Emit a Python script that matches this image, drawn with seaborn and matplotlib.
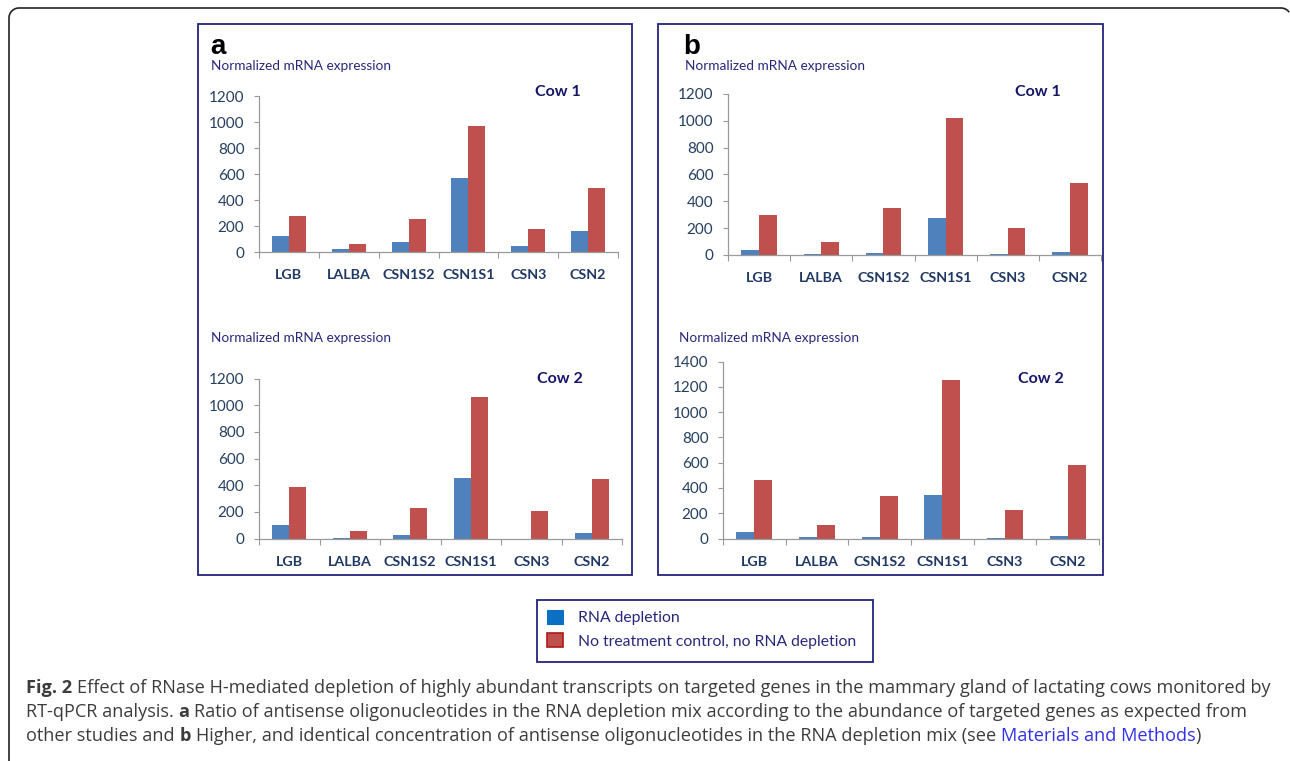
import numpy as np
import pandas as pd
import matplotlib
matplotlib.use("Agg")
import matplotlib.pyplot as plt
import seaborn as sns
from matplotlib.patches import Rectangle, Patch
from matplotlib.lines import Line2D

# ---------------- data ----------------
genes = ["LGB", "LALBA", "CSN1S2", "CSN1S1", "CSN3", "CSN2"]
conditions = ["RNA depletion", "No treatment control, no RNA depletion"]

a_cow1_depleted = [120, 20, 80, 570, 45, 165]
a_cow1_control = [280, 65, 255, 970, 175, 495]
a_cow2_depleted = [105, 5, 30, 455, 0, 45]
a_cow2_control = [390, 55, 230, 1065, 210, 450]
b_cow1_depleted = [35, 5, 15, 275, 5, 20]
b_cow1_control = [300, 95, 350, 1020, 200, 535]
b_cow2_depleted = [55, 10, 10, 345, 5, 20]
b_cow2_control = [460, 105, 340, 1255, 225, 585]

yticks_1200 = [0, 200, 400, 600, 800, 1000, 1200]
yticks_1400 = [0, 200, 400, 600, 800, 1000, 1200, 1400]

ylabel_text = "Normalized mRNA expression"

# ---------------- style ----------------
sns.set_theme(style="white")
plt.rcParams["font.family"] = ["Lato", "DejaVu Sans"]

W, H = 1290, 761
fig = plt.figure(figsize=(W / 100, H / 100), dpi=100)

BLUE = "#4F81BD"
RED = "#C0504D"
palette = {conditions[0]: BLUE, conditions[1]: RED}
NAVY = "#28287A"
TICKC = "#243F60"
CATC = "#1F3864"
AXC = "#9A9A9A"


def fx(x):
    return x / W


def fy(y):
    return 1 - y / H


def make_df(dep, ctl):
    return pd.DataFrame({
        "gene": genes * 2,
        "condition": [conditions[0]] * len(genes) + [conditions[1]] * len(genes),
        "value": list(dep) + list(ctl),
    })


panels = [
    dict(l=259, r=618, y0=252, y1=96, ymax=1200, ticks=yticks_1200,
         dep=a_cow1_depleted, ctl=a_cow1_control,
         lab=(211, 70.5), cow="Cow 1", cowpos=(535, 96.5)),
    dict(l=259, r=622, y0=538.5, y1=378.5, ymax=1200, ticks=yticks_1200,
         dep=a_cow2_depleted, ctl=a_cow2_control,
         lab=(211, 341.5), cow="Cow 2", cowpos=(537, 383)),
    dict(l=728, r=1101, y0=255, y1=94, ymax=1200, ticks=yticks_1200,
         dep=b_cow1_depleted, ctl=b_cow1_control,
         lab=(685, 70.5), cow="Cow 1", cowpos=(1015, 96.5)),
    dict(l=723, r=1099, y0=538.5, y1=361.5, ymax=1400, ticks=yticks_1400,
         dep=b_cow2_depleted, ctl=b_cow2_control,
         lab=(679, 341.5), cow="Cow 2", cowpos=(1018, 383)),
]

for p in panels:
    ax = fig.add_axes([fx(p["l"]), fy(p["y0"]), (p["r"] - p["l"]) / W,
                       (p["y0"] - p["y1"]) / H])
    df = make_df(p["dep"], p["ctl"])
    sns.barplot(data=df, x="gene", y="value", hue="condition", order=genes,
                hue_order=conditions, palette=palette, width=0.57,
                saturation=1, errorbar=None, legend=False, ax=ax,
                linewidth=0)
    ax.set_facecolor("none")
    ax.set_xlim(-0.5, len(genes) - 0.5)
    ax.set_ylim(0, p["ymax"])
    ax.set_yticks(p["ticks"])
    ax.set_yticklabels([str(t) for t in p["ticks"]])
    ax.set_xticks(np.arange(-0.5, len(genes), 1.0))
    ax.set_xticklabels([])
    ax.set_xticks(np.arange(len(genes)), minor=True)
    ax.set_xticklabels(genes, minor=True)
    ax.set_xlabel("")
    ax.set_ylabel("")
    for s in ["top", "right"]:
        ax.spines[s].set_visible(False)
    for s in ["left", "bottom"]:
        ax.spines[s].set_color(AXC)
        ax.spines[s].set_linewidth(0.9)
    ax.tick_params(axis="y", which="major", direction="out", length=3.5,
                   width=0.8, color=AXC, left=True, pad=7,
                   labelsize=11, labelcolor=TICKC)
    ax.tick_params(axis="x", which="major", direction="out", length=4,
                   width=0.8, color=AXC, bottom=True)
    ax.tick_params(axis="x", which="minor", length=0, pad=12.5,
                   labelsize=10.3, labelcolor=CATC)
    for t in ax.get_xticklabels(minor=True):
        t.set_fontweight("bold")
    fig.text(fx(p["lab"][0]), fy(p["lab"][1]), ylabel_text, fontsize=9.8,
             color=NAVY, ha="left", va="baseline")
    fig.text(fx(p["cowpos"][0]), fy(p["cowpos"][1]), p["cow"], fontsize=11.5,
             fontweight="bold", color="#16166A", ha="left", va="baseline")

# panel letters
fig.text(fx(210), fy(54), "a", fontsize=20, fontweight="bold", color="black",
         family=["Liberation Sans", "DejaVu Sans"], ha="left", va="baseline")
fig.text(fx(683), fy(54), "b", fontsize=20, fontweight="bold", color="black",
         family=["Liberation Sans", "DejaVu Sans"], ha="left", va="baseline")

# panel boxes
for (x0, x1) in [(198, 632), (658, 1103)]:
    fig.patches.append(Rectangle((fx(x0), fy(575)), (x1 - x0) / W, (575 - 24) / H,
                                 transform=fig.transFigure, fill=False,
                                 edgecolor="#23237A", linewidth=1.3))

# legend box
fig.patches.append(Rectangle((fx(537), fy(662)), (873 - 537) / W, (662 - 600) / H,
                             transform=fig.transFigure, fill=False,
                             edgecolor="#23237A", linewidth=1.3))
handles = [Patch(facecolor="#0B6FC4", edgecolor="#0B6FC4", linewidth=0.8),
           Patch(facecolor=RED, edgecolor="#B01818", linewidth=1.2)]
fig.legend(handles, conditions, loc="upper left",
           bbox_to_anchor=(fx(547), fy(610)), frameon=False, fontsize=11.3,
           handlelength=1.0, handleheight=1.0, handletextpad=0.95,
           labelspacing=0.5, borderpad=0, borderaxespad=0,
           labelcolor=NAVY)

# outer rounded frame: left edge, top-left corner, top edge, start of top-right corner
rad = 10.0
th1 = np.linspace(np.pi, 1.5 * np.pi, 20)
th2 = np.linspace(1.5 * np.pi, 1.5 * np.pi + 0.9, 12)
px = np.concatenate([[9.0], 19 + rad * np.cos(th1), 1281 + rad * np.cos(th2)])
py = np.concatenate([[770.0], 18 + rad * np.sin(th1), 18 + rad * np.sin(th2)])
fig.lines.append(Line2D(px / W, 1 - py / H, transform=fig.transFigure,
                        color="#222222", linewidth=1.2))

# caption
CAPC = "#3C3C3C"
LINK = "#3030E8"
cap_family = ["Open Sans", "DejaVu Sans"]
renderer = fig.canvas.get_renderer()

lines = [
    [("Fig. 2", "bold", CAPC, False),
     ("Effect of RNase H-mediated depletion of highly abundant transcripts on targeted genes in the mammary gland of lactating cows monitored by", "normal", CAPC, True)],
    [("RT-qPCR analysis.", "normal", CAPC, False), ("a", "bold", CAPC, True),
     ("Ratio of antisense oligonucleotides in the RNA depletion mix according to the abundance of targeted genes as expected from", "normal", CAPC, True)],
    [("other studies and", "normal", CAPC, False), ("b", "bold", CAPC, True),
     ("Higher, and identical concentration of antisense oligonucleotides in the RNA depletion mix (see", "normal", CAPC, True),
     ("Materials and Methods", "normal", LINK, True), (")", "normal", CAPC, False)],
]
baselines = [693, 717, 741]


def space_width(fs):
    t1 = fig.text(0, 0, "x x", fontsize=fs, family=cap_family)
    t2 = fig.text(0, 0, "xx", fontsize=fs, family=cap_family)
    w = t1.get_window_extent(renderer).width - t2.get_window_extent(renderer).width
    t1.remove()
    t2.remove()
    return w


def draw_line(segs, x0, ybase, fs, keep=True):
    x = x0
    sw = space_width(fs)
    made = []
    for s, wt, col, sp in segs:
        if sp:
            x += sw
        t = fig.text(x / W, fy(ybase), s, fontsize=fs, fontweight=wt, color=col,
                     family=cap_family, ha="left", va="baseline")
        x += t.get_window_extent(renderer).width
        made.append(t)
    if not keep:
        for t in made:
            t.remove()
    return x


base_fs = 11.0
end = draw_line(lines[0], 26, baselines[0], base_fs, keep=False)
fs = base_fs * (1273 - 26) / (end - 26)
for segs, yb in zip(lines, baselines):
    draw_line(segs, 26, yb, fs)

fig.savefig("out.png", dpi=100)
